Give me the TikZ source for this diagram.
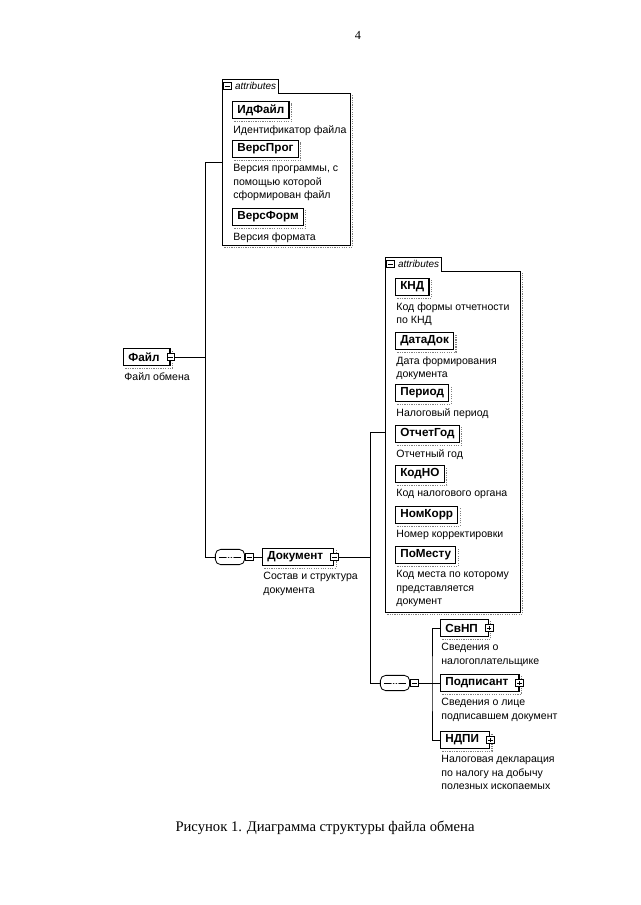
\documentclass[tikz,border=0pt]{standalone}
\usepackage{fontspec}
\setmainfont{Liberation Sans}
\newfontfamily\capfont{Liberation Serif}
\usetikzlibrary{positioning}

\tikzset{
  shadeline/.style={gray, densely dotted, line width=1pt},
  shade/.style={append after command={\pgfextra{\let\shnode\tikzlastnode
    \draw[shadeline] ([shift={(2pt,-1.5pt)}]\shnode.south west) -| ([shift={(1.5pt,-2pt)}]\shnode.north east);}}},
  elem/.style={draw, line width=1.1pt, fill=white, anchor=west, inner xsep=4pt, inner ysep=0pt,
    minimum height=15pt, font=\bfseries\fontsize{10}{11}\selectfont, shade},
  elemc/.style={elem, execute at end node={\hspace{5pt}}},
  desc/.style={anchor=north west, align=left, inner sep=0pt, font=\fontsize{9}{11.5}\selectfont},
  expm/.style={draw, fill=white, line width=0.6pt, inner sep=0pt, minimum size=6.5pt,
    path picture={\draw ([xshift=1.2pt]path picture bounding box.west) -- ([xshift=-1.2pt]path picture bounding box.east);}},
  expp/.style={draw, fill=white, line width=0.6pt, inner sep=0pt, minimum size=6.5pt,
    path picture={\draw ([xshift=1.2pt]path picture bounding box.west) -- ([xshift=-1.2pt]path picture bounding box.east);
      \draw ([yshift=1.2pt]path picture bounding box.south) -- ([yshift=-1.2pt]path picture bounding box.north);}},
  seq/.style={draw, fill=white, line width=0.7pt, rounded corners=4.5pt, inner sep=0pt,
    minimum width=25pt, minimum height=13pt,
    path picture={\draw ([xshift=3pt]path picture bounding box.west) -- ([xshift=-3pt]path picture bounding box.east);
      \foreach \dd in {-2.3pt,0pt,2.3pt} \fill ([xshift=\dd]path picture bounding box.center) circle (0.9pt);}},
  grp/.style={line width=0.6pt},
  tab/.style={inner xsep=2pt, inner ysep=0pt, minimum height=11.5pt, anchor=south west,
    font=\itshape\fontsize{8.5}{9}\selectfont},
  link/.style={line width=0.6pt}
}

\begin{document}
\begin{tikzpicture}[x=0.03cm,y=-0.03cm]
  \useasboundingbox (0,0) rectangle (640,905);
  \node[font=\capfont\fontsize{10.5}{12}\selectfont] (pagenum) at (358,35) {4};

  % root element
  \node[elemc] (file) at (123,357) {Файл};
  \node[expm] (fileexp) at (file.east) {};
  \node[desc] (filed) at ([shift={(1pt,-5pt)}]file.south west) {Файл обмена};

  % attributes of the root
  \node[minimum width=3.84cm, minimum height=4.56cm, anchor=north west] (attrA) at (222,93) {};
  \node[tab] (tabA) at (attrA.north west) {\hspace{9pt}attributes\hspace{3pt}};
  \node[expm] at ([xshift=4.5pt]tabA.west) {};
  \draw[shadeline] ([shift={(2pt,-1.5pt)}]attrA.south west) -| ([shift={(1.5pt,-2pt)}]attrA.north east);
  \draw[grp] (tabA.south east) -- (attrA.north east) -- (attrA.south east) -- (attrA.south west)
    -- (tabA.north west) -- (tabA.north east) -- cycle;
  \foreach \nm/\lab/\yy/\dsc in {idfile/ИдФайл/110/{Идентификатор файла},
      versprog/ВерсПрог/149/{Версия программы, с\\помощью которой\\сформирован файл},
      versform/ВерсФорм/217/{Версия формата}}
  {
    \node[elem] (\nm) at (232,\yy) {\lab};
    \node[desc] at ([shift={(1pt,-5pt)}]\nm.south west) {\dsc};
  }

  % document
  \node[seq] (seqA) at (230,557) {};
  \node[expm, right=0pt of seqA] (seqAexp) {};
  \node[elemc] (doc) at (262,557) {Документ};
  \node[expm] (docexp) at (doc.east) {};
  \node[desc] (docd) at ([shift={(1pt,-5pt)}]doc.south west) {Состав и структура\\документа};

  % attributes of the document
  \node[minimum width=4.05cm, minimum height=10.23cm, anchor=north west] (attrB) at (385,271) {};
  \node[tab] (tabB) at (attrB.north west) {\hspace{9pt}attributes\hspace{3pt}};
  \node[expm] at ([xshift=4.5pt]tabB.west) {};
  \draw[shadeline] ([shift={(2pt,-1.5pt)}]attrB.south west) -| ([shift={(1.5pt,-2pt)}]attrB.north east);
  \draw[grp] (tabB.south east) -- (attrB.north east) -- (attrB.south east) -- (attrB.south west)
    -- (tabB.north west) -- (tabB.north east) -- cycle;
  \foreach \nm/\lab/\yy/\dsc in {knd/КНД/287/{Код формы отчетности\\по КНД},
      datadok/ДатаДок/341/{Дата формирования\\документа},
      period/Период/393/{Налоговый период},
      otchgod/ОтчетГод/434/{Отчетный год},
      kodno/КодНО/474/{Код налогового органа},
      nomkorr/НомКорр/515/{Номер корректировки},
      pomestu/ПоМесту/555/{Код места по которому\\представляется\\документ}}
  {
    \node[elem] (\nm) at (395,\yy) {\lab};
    \node[desc] at ([shift={(1pt,-5pt)}]\nm.south west) {\dsc};
  }

  % children of the document
  \node[seq] (seqB) at (395,683) {};
  \node[expm, right=0pt of seqB] (seqBexp) {};
  \node[elemc] (svnp) at (440,628) {СвНП};
  \node[expp] (svnpexp) at (svnp.east) {};
  \node[desc] at ([shift={(1pt,-5pt)}]svnp.south west) {Сведения о\\налогоплательщике};
  \node[elemc] (podp) at (440,683) {Подписант};
  \node[expp] (podpexp) at (podp.east) {};
  \node[desc] at ([shift={(1pt,-5pt)}]podp.south west) {Сведения о лице\\подписавшем документ};
  \node[elemc] (ndpi) at (440,740) {НДПИ};
  \node[expp] (ndpiexp) at (ndpi.east) {};
  \node[desc] at ([shift={(1pt,-5pt)}]ndpi.south west) {Налоговая декларация\\по налогу на добычу\\полезных ископаемых};

  % connectors
  \coordinate (busA) at (205,357);
  \coordinate (busB) at (370,557);
  \coordinate (busC) at (432,683);
  \draw[link] (fileexp.east) -- (busA);
  \draw[link] ([yshift=6pt]attrA.west) -| (busA |- seqA) -- (seqA.west);
  \draw[link] (seqAexp.east) -- (doc.west);
  \draw[link] (docexp.east) -- (busB);
  \draw[link] ([yshift=8pt]attrB.west) -| (busB |- seqB) -- (seqB.west);
  \draw[link] (seqBexp.east) -- (busC);
  \draw[link] (svnp.west) -| (busC) |- (ndpi.west);
  \draw[link] (podp.west) -- (busC);

  \node[font=\capfont\fontsize{12.5}{14}\selectfont] (caption) at (325,828) {Рисунок 1. Диаграмма структуры файла обмена};
\end{tikzpicture}
\end{document}
